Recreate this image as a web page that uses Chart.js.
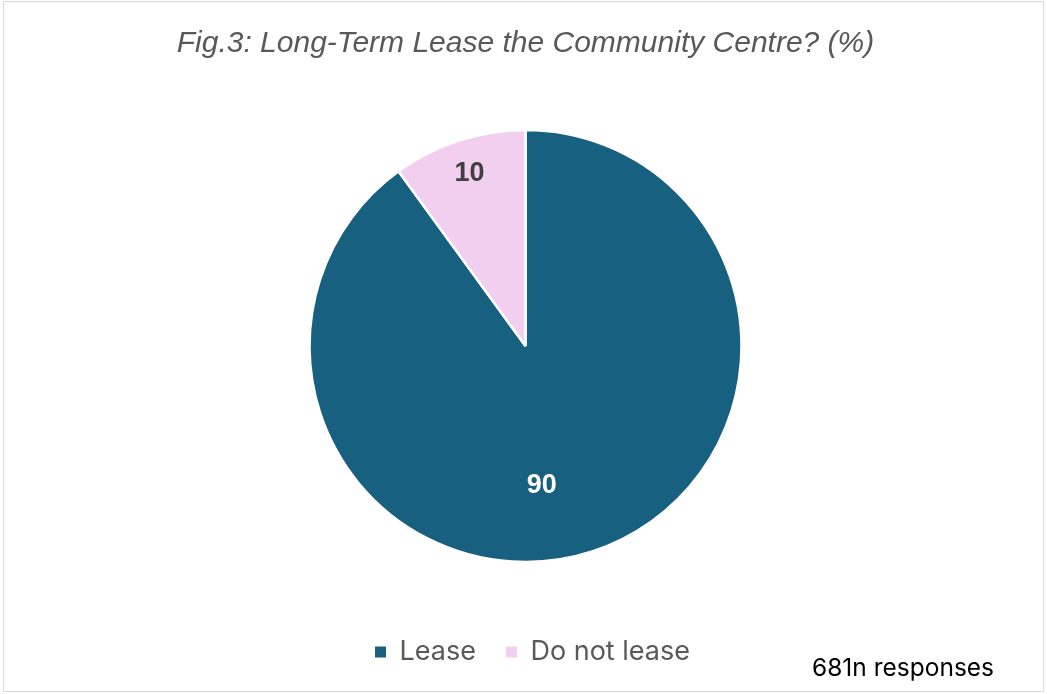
<!DOCTYPE html>
<html><head><meta charset="utf-8">
<script src="https://cdn.jsdelivr.net/npm/chart.js@4"></script>
<style>
html,body{margin:0;padding:0;background:#fff;}
#wrap{position:relative;width:1047px;height:694px;}
#frame{position:absolute;left:3px;top:1px;width:1039px;height:689px;border:1.5px solid #d9d9d9;pointer-events:none;}
#note{position:absolute;left:812px;top:652px;font:24.5px Inter, "Open Sans", sans-serif;color:#000;white-space:nowrap;}
canvas{position:absolute;left:0;top:0;}
</style></head>
<body>
<div id="wrap">
<canvas id="c" width="1047" height="694"></canvas>
<div id="frame"></div>
<div id="note">681n responses</div>
</div>
<script>
const titleText = 'Fig.3: Long-Term Lease the Community Centre? (%)';
const categories = ['Lease', 'Do not lease'];
const values = [90, 10];
const colors = ['#17607f', '#f2cfee'];
const labelColors = ['#ffffff', '#404040'];

const labelPlugin = {
  id: 'sliceLabels',
  afterDatasetsDraw(chart) {
    const ctx = chart.ctx;
    const meta = chart.getDatasetMeta(0);
    ctx.save();
    ctx.font = 'bold 27px "Liberation Sans", Arial, sans-serif';
    ctx.textAlign = 'center';
    ctx.textBaseline = 'middle';
    meta.data.forEach((arc, i) => {
      const p = arc.getProps(['x','y','startAngle','endAngle','outerRadius'], true);
      let x, y;
      if (i === 0) {
        // Excel best-fit position for the large slice
        x = p.x + p.outerRadius * 0.075;
        y = p.y + p.outerRadius * 0.648;
      } else {
        const mid = (p.startAngle + p.endAngle) / 2;
        x = p.x + Math.cos(mid) * p.outerRadius * 0.84;
        y = p.y + Math.sin(mid) * p.outerRadius * 0.84;
      }
      ctx.fillStyle = labelColors[i];
      ctx.fillText(String(values[i]), x, y);
    });
    ctx.restore();
  }
};

const legendShift = {
  id: 'legendShift',
  afterLayout(chart) {
    // the reference legend sits slightly right of centre
    chart.legend.left += 7;
    chart.legend.right += 7;
  }
};

new Chart(document.getElementById('c'), {
  type: 'pie',
  data: {
    labels: categories,
    datasets: [{
      data: values,
      backgroundColor: colors,
      borderColor: '#ffffff',
      borderWidth: 2.5,
      radius: 216
    }]
  },
  options: {
    responsive: false,
    animation: false,
    layout: { padding: { left: 4, right: 0, top: 0, bottom: 18.5 } },
    plugins: {
      tooltip: { enabled: false },
      title: {
        display: true,
        text: titleText,
        color: '#595959',
        font: { family: '"Liberation Sans", Arial, sans-serif', size: 30, style: 'italic', weight: 'normal' },
        padding: { top: 26, bottom: 21.5 }
      },
      legend: {
        display: true,
        position: 'bottom',
        labels: {
          boxWidth: 11,
          boxHeight: 11,
          padding: 30,
          color: '#595959',
          font: { family: 'Inter, "Open Sans", sans-serif', size: 27 },
          generateLabels(chart) {
            return Chart.overrides.pie.plugins.legend.labels.generateLabels(chart)
              .map(l => Object.assign(l, { lineWidth: 0, strokeStyle: 'rgba(0,0,0,0)' }));
          }
        }
      }
    }
  },
  plugins: [labelPlugin, legendShift]
});
</script>
</body></html>
